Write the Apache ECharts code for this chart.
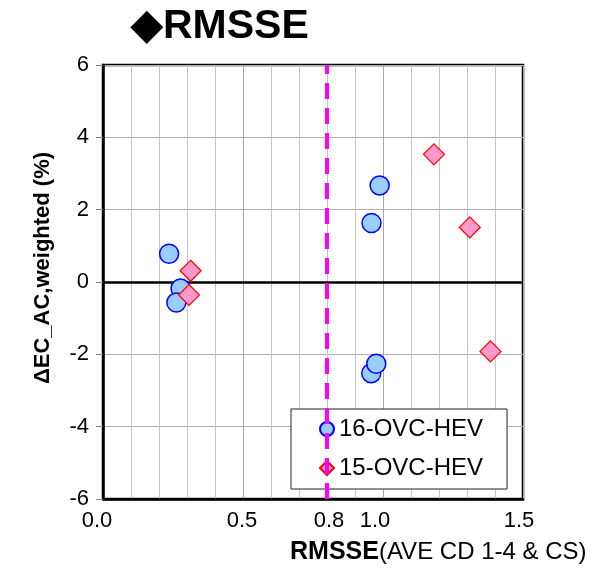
<!DOCTYPE html>
<html>
<head>
<meta charset="utf-8">
<script src="https://cdn.jsdelivr.net/npm/echarts@6/dist/echarts.min.js"></script>
<style>
html,body{margin:0;padding:0;background:#fff;}
#chart{width:605px;height:570px;}
</style>
</head>
<body>
<div id="chart"></div>
<script>
// ---- data ----
var seriesNames = ['16-OVC-HEV', '15-OVC-HEV'];
var hev16X = [0.236, 0.277, 0.262, 0.988, 0.959, 0.958, 0.976];
var hev16Y = [0.78, -0.18, -0.57, 2.67, 1.63, -2.52, -2.26];
var hev15X = [0.313, 0.307, 1.182, 1.310, 1.384];
var hev15Y = [0.31, -0.36, 3.53, 1.51, -1.92];
var threshold = 0.8;
var xTickLabels = ['0.0', '0.5', '0.8', '1.0', '1.5'];
var yTicks = [-6, -4, -2, 0, 2, 4, 6];

function pairs(xs, ys) { return xs.map(function (x, i) { return [x, ys[i]]; }); }

var chart = echarts.init(document.getElementById('chart'), null, {renderer: 'canvas'});
var FONT = 'Liberation Sans, Arial, sans-serif';

var labelShift = {'0.0': [0, 12, 0, 0], '0.5': [0, 2, 0, 0], '0.8': [0, 0, 0, 4], '1.0': [0, 16, 0, 0], '1.5': [0, 8, 0, 0]};
var rich = {};
xTickLabels.forEach(function (t, i) {
  rich['l' + i] = {fontSize: 22, color: '#000', fontFamily: FONT, padding: labelShift[t]};
});

var option = {
  animation: false,
  backgroundColor: '#fff',
  textStyle: {fontFamily: FONT},
  grid: {left: 103, right: 82, top: 65, bottom: 71, show: true, borderColor: '#000', borderWidth: 2.5, backgroundColor: 'transparent'},
  xAxis: {
    type: 'value', min: 0, max: 1.5, interval: 0.1,
    axisLine: {onZero: false, lineStyle: {color: '#000', width: 2.5}},
    axisTick: {show: false},
    splitLine: {show: true, lineStyle: {color: ['#a8a8a8', '#c4c4c4', '#c4c4c4', '#c4c4c4', '#c4c4c4'], width: 1}},
    axisLabel: {
      margin: 11, fontSize: 22, color: '#000', fontFamily: FONT, rich: rich,
      formatter: function (v) {
        var s = v.toFixed(1);
        var idx = xTickLabels.indexOf(s);
        return idx >= 0 ? '{l' + idx + '|' + s + '}' : '';
      }
    }
  },
  yAxis: {
    type: 'value', min: yTicks[0], max: yTicks[yTicks.length - 1], interval: 2,
    axisLine: {onZero: false, lineStyle: {color: '#000', width: 2.5}},
    axisTick: {show: true, inside: false, length: 7, lineStyle: {color: '#888', width: 1}},
    splitLine: {show: true, lineStyle: {color: '#b0b0b0', width: 1}},
    axisLabel: {margin: 14, fontSize: 22, color: '#000', fontFamily: FONT}
  },
  legend: {
    data: seriesNames,
    orient: 'vertical', left: 291, top: 409, z: 1,
    backgroundColor: '#fff', borderColor: '#222', borderWidth: 1,
    padding: [8, 24, 9, 28], itemGap: 15, itemWidth: 14, itemHeight: 14,
    textStyle: {fontSize: 24, color: '#000', fontFamily: FONT, lineHeight: 24}
  },
  graphic: [
    {type: 'text', left: 131, top: 6, z: 10, style: {text: '\u25C6RMSSE', font: 'bold 41px ' + FONT, fill: '#000'}},
    {type: 'text', x: 43, y: 268, rotation: Math.PI / 2, z: 10,
      style: {text: '\u0394EC_AC,weighted (%)', font: 'bold 22px ' + FONT, fill: '#000', align: 'center', verticalAlign: 'middle'}},
    {type: 'text', x: 290, y: 552, z: 10,
      style: {
        text: '{b|RMSSE}{n|(AVE CD 1-4 & CS)}', verticalAlign: 'middle', align: 'left',
        rich: {b: {font: 'bold 25px ' + FONT, fill: '#000'}, n: {font: '24px ' + FONT, fill: '#000'}}
      }}
  ],
  series: [
    {
      name: 'zero', type: 'scatter', data: [], z: 1, silent: true,
      markLine: {
        silent: true, symbol: 'none', z: 1, label: {show: false},
        lineStyle: {color: '#000', width: 2.5, type: 'solid'},
        data: [{yAxis: 0}]
      }
    },
    {
      name: 'threshold', type: 'scatter', data: [], z: 5, silent: true,
      markLine: {
        silent: true, symbol: 'none', z: 5, label: {show: false},
        lineStyle: {color: '#ff00ff', width: 4, type: [16, 9]},
        data: [{xAxis: threshold}]
      }
    },
    {
      name: seriesNames[0], type: 'scatter', z: 3, symbol: 'circle', symbolSize: 19,
      itemStyle: {color: '#99ccff', borderColor: '#0000ff', borderWidth: 1.5, opacity: 1},
      data: pairs(hev16X, hev16Y)
    },
    {
      name: seriesNames[1], type: 'scatter', z: 3, symbol: 'diamond', symbolSize: 21,
      itemStyle: {color: '#ff99cc', borderColor: '#ff0000', borderWidth: 1.2, opacity: 1},
      data: pairs(hev15X, hev15Y)
    }
  ]
};
chart.setOption(option);
</script>
</body>
</html>
